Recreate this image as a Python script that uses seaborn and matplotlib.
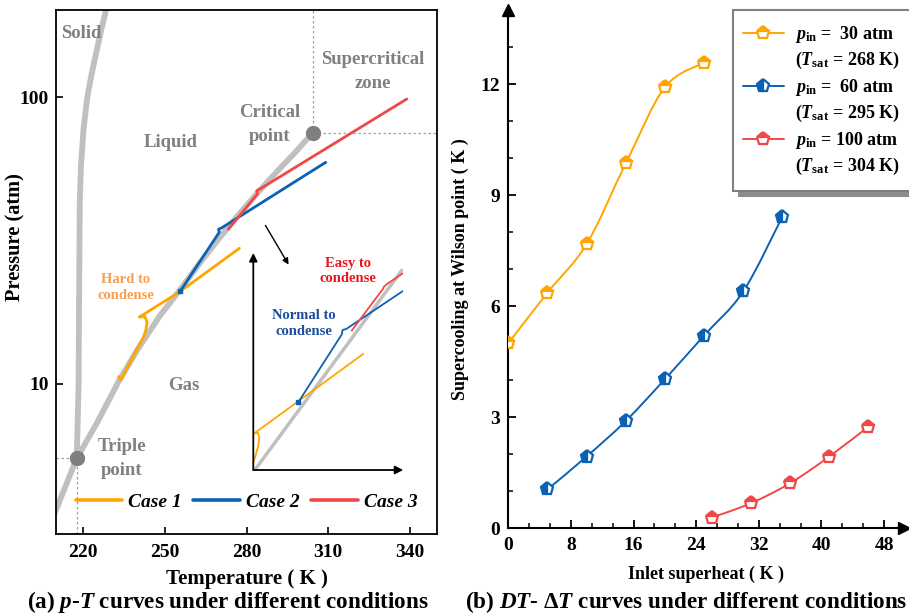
import numpy as np
import matplotlib
matplotlib.use("Agg")
import matplotlib.pyplot as plt
import seaborn as sns
from matplotlib.path import Path
from matplotlib.patches import PathPatch, Rectangle
from matplotlib.lines import Line2D
from matplotlib.ticker import FixedLocator, NullLocator

sns.set_theme(style="ticks")
plt.rcParams.update({
    "font.family": ["Liberation Serif", "DejaVu Serif"],
    "font.weight": "bold",
    "axes.labelweight": "bold",
    "mathtext.fontset": "custom",
    "mathtext.rm": "Liberation Serif:bold",
    "mathtext.it": "Liberation Serif:italic:bold",
    "mathtext.bf": "Liberation Serif:bold",
    "axes.edgecolor": "black",
    "text.color": "black",
    "axes.labelcolor": "black",
    "xtick.color": "black",
    "ytick.color": "black",
})

# ---------------- (a) CO2 phase diagram with expansion paths ----------------
subl_T = [209.0, 217.6]
subl_p = [3.45, 5.5]
vap_T = [217.6, 225, 233, 240, 248, 255.6, 263, 270, 277, 284, 291, 298, 304.3]
vap_p = [5.5, 7.3, 10.2, 13.2, 17.2, 21.3, 26.5, 32.2, 38.8, 46.3, 54.7, 64.3, 75.0]
melt_T = [217.6, 218.0, 218.3, 218.5, 218.75, 219.2, 220.1, 221.5, 223.0, 225.0, 226.6, 228.6]
melt_p = [5.5, 7.5, 10.0, 21.0, 44.0, 58.0, 77.0, 100.0, 119.0, 146.0, 171.0, 205.0]
triple_T, triple_p = 217.6, 5.5
crit_T, crit_p = 304.3, 75.0

case1_T = [277.4, 255.6, 240.6, 242.6, 243.5, 243.0, 242.2, 233.8, 233.0]
case1_p = [29.7, 21.0, 17.1, 17.2, 16.4, 15.4, 14.6, 10.33, 10.6]
case2_T = [309.1, 270.9, 269.7, 270.0, 255.6]
case2_p = [59.2, 35.0, 34.6, 33.8, 21.0]
case3_T = [338.9, 284.8, 283.8, 284.0, 273.3]
case3_p = [98.4, 47.7, 47.2, 45.9, 34.6]
case_labels = ["Case 1", "Case 2", "Case 3"]

# schematic inset (unitless coordinates)
ins_sat_u, ins_sat_v = [0.01, 0.99], [0.0, 0.92]
ins1_u = [0.733, 0.005, 0.03, 0.04, 0.033, 0.012, 0.0]
ins1_v = [0.535, 0.168, 0.172, 0.15, 0.11, 0.06, 0.035]
ins2_u = [0.30, 0.59, 0.595, 0.62, 1.0]
ins2_v = [0.312, 0.625, 0.645, 0.65, 0.826]
ins3_u = [0.656, 0.867, 0.871, 0.889, 0.996]
ins3_v = [0.642, 0.837, 0.845, 0.856, 0.906]

# ---------------- (b) supercooling vs inlet superheat ----------------
sh_30 = [0, 5, 10, 15, 20, 25]
sc_30 = [5.0, 6.37, 7.68, 9.86, 11.92, 12.58]
sh_60 = [5, 10, 15, 20, 25, 30, 35]
sc_60 = [1.05, 1.94, 2.90, 4.03, 5.21, 6.40, 8.42]
sh_100 = [26, 31, 36, 41, 46]
sc_100 = [0.29, 0.68, 1.22, 1.94, 2.75]
series_labels = [
    (r"$p_{\mathrm{in}}$ =  30 atm", r"($T_{\mathrm{sat}}$ = 268 K)"),
    (r"$p_{\mathrm{in}}$ =  60 atm", r"($T_{\mathrm{sat}}$ = 295 K)"),
    (r"$p_{\mathrm{in}}$ = 100 atm", r"($T_{\mathrm{sat}}$ = 304 K)"),
]

ORANGE = "#FFA500"
BLUE = "#0A62B6"
RED = "#F04848"
GRAY_LINE = "#C0C0C0"
GRAY_TXT = "#808080"

W, H = 909, 616
fig = plt.figure(figsize=(W / 100, H / 100), dpi=100)


def fx(px):
    return px / W


def fy(py):
    return 1 - py / H


axL = fig.add_axes([fx(56), fy(534), (437 - 56) / W, (534 - 10) / H])
axL.set_yscale("log")
axL.set_xlim(210, 350)
axL.set_ylim(3, 201)

# phase boundaries
for T, p in [(subl_T, subl_p), (vap_T, vap_p), (melt_T, melt_p)]:
    sns.lineplot(x=T, y=p, sort=False, estimator=None, color=GRAY_LINE,
                 lw=4.2, ax=axL, solid_capstyle="butt", zorder=2)

# guide lines through triple and critical points
guide = dict(ls=(0, (2, 2)), color="#A0A0A0", lw=0.9, zorder=1)
axL.plot([210, triple_T], [triple_p, triple_p], **guide)
axL.plot([triple_T, triple_T], [3, triple_p], **guide)
axL.plot([crit_T, crit_T], [crit_p, 201], **guide)
axL.plot([crit_T, 350], [crit_p, crit_p], **guide)
axL.plot([triple_T, crit_T], [triple_p, crit_p], ls="none", marker="o", ms=10,
         color="#7F7F7F", zorder=5)

for T, p, c in [(case1_T, case1_p, ORANGE), (case2_T, case2_p, BLUE), (case3_T, case3_p, RED)]:
    sns.lineplot(x=T, y=p, sort=False, estimator=None, color=c, lw=2.0, ax=axL, zorder=4)
axL.plot([255.6], [21.0], ls="none", marker="s", ms=3, color=BLUE, zorder=6)

tk = dict(color=GRAY_TXT, fontsize=13.5, fontweight="bold", ha="center", va="center",
          linespacing=1.5)
fig.text(fx(81), fy(34), "Solid", **tk)
fig.text(fx(373), fy(71.5), "Supercritical\nzone", **tk)
fig.text(fx(270), fy(124.5), "Critical\npoint", **tk)
fig.text(fx(171), fy(142), "Liquid", **tk)
fig.text(fx(184), fy(386), "Gas", **tk)
fig.text(fx(122), fy(458.5), "Triple\npoint", **tk)

tk2 = dict(fontsize=10.5, fontweight="bold", ha="center", va="center", linespacing=1.3)
fig.text(fx(126), fy(287.5), "Hard to\ncondense", color="#F7A050", **tk2)
fig.text(fx(348), fy(271), "Easy to\ncondense", color="#E8161C", **tk2)
fig.text(fx(304), fy(323.5), "Normal to\ncondense", color="#1A4D9C", **tk2)

axL.annotate("", xy=(290, H - 267), xycoords="figure pixels",
             xytext=(264, H - 223), textcoords="figure pixels",
             arrowprops=dict(arrowstyle="-|>", lw=1.0, color="black", mutation_scale=9))

axL.xaxis.set_major_locator(FixedLocator([220, 250, 280, 310, 340]))
axL.yaxis.set_major_locator(FixedLocator([10, 100]))
axL.yaxis.set_minor_locator(NullLocator())
axL.set_yticklabels(["10", "100"])
axL.tick_params(axis="x", direction="in", length=5, width=1.2, labelsize=14, pad=7)
axL.tick_params(axis="y", direction="in", length=5, width=1.2, labelsize=14, pad=5)
for s in axL.spines.values():
    s.set_linewidth(1.3)
axL.set_xlabel("Temperature ( K )", fontsize=15, labelpad=6)
axL.set_ylabel("Pressure (atm)", fontsize=14.7)
axL.yaxis.set_label_coords(-0.08, 0.567)

case_handles = [Line2D([0], [0], color=c, lw=2.6) for c in (ORANGE, BLUE, RED)]
legL = axL.legend(case_handles, case_labels, loc="center", bbox_to_anchor=(0.5, 0.061),
                  ncol=3, frameon=False, handlelength=2.4, handletextpad=0.3,
                  columnspacing=0.6, prop=dict(size=14, weight="bold", style="italic"))

# inset schematic
axI = fig.add_axes([fx(253.3), fy(470), 150 / W, 217 / H])
axI.patch.set_alpha(0)
axI.set_xlim(0, 1)
axI.set_ylim(0, 1)
axI.axis("off")
sns.lineplot(x=ins_sat_u, y=ins_sat_v, sort=False, estimator=None, color=GRAY_LINE, lw=2.5, ax=axI)
sns.lineplot(x=ins1_u, y=ins1_v, sort=False, estimator=None, color=ORANGE, lw=1.3, ax=axI)
sns.lineplot(x=ins2_u, y=ins2_v, sort=False, estimator=None, color=BLUE, lw=1.3, ax=axI)
sns.lineplot(x=ins3_u, y=ins3_v, sort=False, estimator=None, color=RED, lw=1.3, ax=axI)
axI.plot([ins2_u[0]], [ins2_v[0]], ls="none", marker="s", ms=2.5, color=BLUE)
for tip in [(0, 1.0), (1.0, 0)]:
    axI.annotate("", xy=tip, xytext=(0, 0), xycoords="axes fraction",
                 arrowprops=dict(arrowstyle="-|>", lw=1.3, color="black", mutation_scale=12,
                                 shrinkA=0, shrinkB=0))

# ---------------- right panel ----------------
axR = fig.add_axes([fx(508.3), fy(528.3), 395.4 / W, 518 / H])
axR.set_xlim(0, 50.5)
axR.set_ylim(0, 14)


def smooth_path(xs, ys):
    pts = np.column_stack([xs, ys]).astype(float)
    n = len(pts)
    verts = [pts[0]]
    codes = [Path.MOVETO]
    for i in range(n - 1):
        p0 = pts[i - 1] if i > 0 else pts[i]
        p1, p2 = pts[i], pts[i + 1]
        p3 = pts[i + 2] if i + 2 < n else pts[i + 1]
        verts += [p1 + (p2 - p0) / 6, p2 - (p3 - p1) / 6, p2]
        codes += [Path.CURVE4] * 3
    return Path(verts, codes)


styles = [(sh_30, sc_30, ORANGE, "top"), (sh_60, sc_60, BLUE, "left"), (sh_100, sc_100, RED, "top")]
handles = []
labels = []
for (xs, ys, c, fs), (l1, l2) in zip(styles, series_labels):
    axR.add_patch(PathPatch(smooth_path(xs, ys), fill=False, edgecolor=c, lw=1.4, zorder=3))
    sns.lineplot(x=xs, y=ys, ax=axR, estimator=None, sort=False, linestyle="", marker="p",
                 markersize=9.5, color=c, markeredgecolor=c, markeredgewidth=1.6,
                 fillstyle=fs, markerfacecoloralt="white", zorder=4)
    handles += [Line2D([0], [0], color=c, lw=1.4, marker="p", ms=9.5, mec=c, mew=1.6,
                       fillstyle=fs, markerfacecoloralt="white"),
                Line2D([], [], ls="none")]
    labels += [l1, l2]

for side in ("top", "right"):
    axR.spines[side].set_visible(False)
for side in ("left", "bottom"):
    axR.spines[side].set_linewidth(1.5)
axR.plot(1, 0, ">", color="black", ms=8, transform=axR.get_yaxis_transform(), clip_on=False)
axR.plot(0, 1, "^", color="black", ms=8, transform=axR.get_xaxis_transform(), clip_on=False)

axR.xaxis.set_major_locator(FixedLocator([0, 8, 16, 24, 32, 40, 48]))
axR.xaxis.set_minor_locator(FixedLocator(list(np.arange(0, 50, 8 / 3))))
axR.yaxis.set_major_locator(FixedLocator([0, 3, 6, 9, 12]))
axR.yaxis.set_minor_locator(FixedLocator(list(range(0, 14))))
axR.tick_params(which="major", direction="in", length=6, width=1.3, labelsize=14, pad=6)
axR.tick_params(which="minor", direction="in", length=3.5, width=1.1)
axR.set_xlabel("Inlet superheat ( K )", fontsize=13, labelpad=9)
axR.set_ylabel("Supercooling at Wilson point ( K )", fontsize=13, labelpad=8)

# legend box with drop shadow (extends past the right edge)
fig.add_artist(Rectangle((fx(738), fy(196.5)), (930 - 738) / W, (196.5 - 16) / H,
                         transform=fig.transFigure, facecolor="#8C8C8C", edgecolor="none",
                         zorder=2))
fig.add_artist(Rectangle((fx(732.7), fy(190.7)), (930 - 732.7) / W, (190.7 - 10) / H,
                         transform=fig.transFigure, facecolor="white", edgecolor="#808080",
                         lw=1.5, zorder=3))
legR = fig.legend(handles, labels, loc="upper left", bbox_to_anchor=(fx(732.7), fy(14)),
                  bbox_transform=fig.transFigure, borderaxespad=0, frameon=False,
                  prop=dict(size=13, weight="bold"), handlelength=2.3,
                  handletextpad=0.6, labelspacing=0.3, borderpad=0.55)
legR.set_zorder(5)

fig.text(fx(227.5), fy(602), "(a) $p$-$T$ curves under different conditions",
         fontsize=16.7, fontweight="bold", ha="center", va="center")
fig.text(fx(686), fy(602), r"(b) $DT$- $\Delta T$ curves under different conditions",
         fontsize=16.7, fontweight="bold", ha="center", va="center")

fig.savefig("out.png", dpi=100)
